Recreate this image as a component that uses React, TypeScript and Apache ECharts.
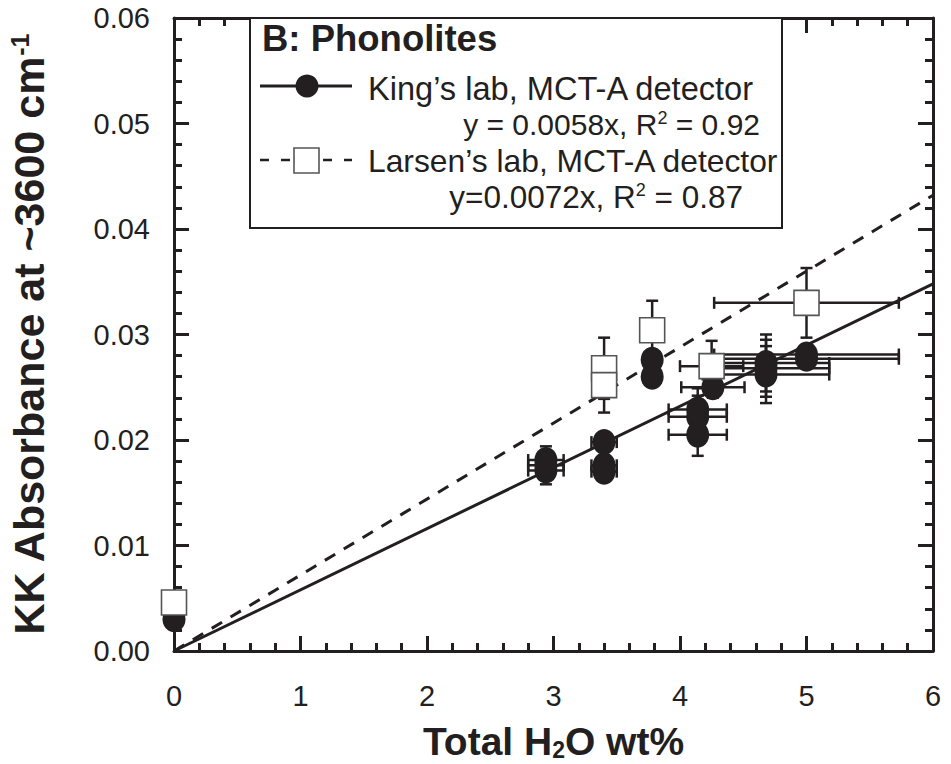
import React, { useEffect, useRef } from 'react';
import * as echarts from 'echarts';

const INK = '#231f20';
const FONT = '"Liberation Sans", Arial, Helvetica, sans-serif';

// King's lab (filled circles): total H2O wt%, absorbance, x error, y error
const kingX = [0, 2.94, 2.94, 2.94, 3.4, 3.4, 3.4, 3.78, 3.78, 4.14, 4.14, 4.14, 4.26, 4.68, 4.68, 4.68, 5.0, 5.0];
const kingY = [0.003, 0.0181, 0.0176, 0.0171, 0.0198, 0.0176, 0.017, 0.0276, 0.026, 0.0229, 0.0222, 0.0205, 0.025, 0.0273, 0.0268, 0.0262, 0.0281, 0.0277];
const kingXErr = [0, 0.14, 0.14, 0.14, 0.1, 0.1, 0.1, 0, 0, 0.23, 0.23, 0.23, 0.25, 0.5, 0.5, 0.5, 0.73, 0.73];
const kingYErr = [0, 0.0013, 0.0013, 0.0013, 0.0006, 0.0006, 0.0006, 0.0008, 0.0008, 0.002, 0.002, 0.002, 0.001, 0.0027, 0.0027, 0.0027, 0, 0];

// Larsen's lab (open squares)
const larsenX = [0, 3.4, 3.4, 3.78, 4.25, 5.0];
const larsenY = [0.0046, 0.0268, 0.0252, 0.0304, 0.027, 0.033];
const larsenXErr = [0, 0, 0, 0, 0.25, 0.73];
const larsenYErr = [0, 0.0029, 0.0026, 0.0028, 0.0024, 0.0033];

// Regression fits (through origin)
const fitRange = [0, 6];
const kingSlope = 0.0058;
const larsenSlope = 0.0072;

// Axis ticks
const xTicks = { min: 0, max: 6, interval: 1 };
const yTicks = { min: 0, max: 0.06, interval: 0.01 };

const legendTitle = 'B: Phonolites';
const kingLabel = "King\u2019s lab, MCT-A detector";
const kingEq = 'y = 0.0058x, R{sup|2} = 0.92';
const larsenLabel = "Larsen\u2019s lab, MCT-A detector";
const larsenEq = 'y=0.0072x, R{sup|2} = 0.87';

function makeAxis(pos: string, ticks: any, showLabels: boolean, fmt?: (v: number) => string) {
  return {
    type: 'value',
    position: pos,
    min: ticks.min,
    max: ticks.max,
    interval: ticks.interval,
    axisLine: { show: true, onZero: false, lineStyle: { color: INK, width: 3 } },
    axisTick: { show: true, inside: true, length: 15, lineStyle: { color: INK, width: 3 } },
    minorTick: { show: true, splitNumber: 5, length: 8, lineStyle: { color: INK, width: 3 } },
    splitLine: { show: false },
    minorSplitLine: { show: false },
    axisLabel: {
      show: showLabels,
      color: INK,
      fontFamily: FONT,
      fontSize: 29,
      margin: pos === 'left' ? 24 : 30,
      formatter: fmt,
    },
  };
}

function errorBars(xs: number[], ys: number[], xe: number[], ye: number[]) {
  return xs.map((x, i) => [x, ys[i], xe[i], ye[i]]);
}

const renderErr = (params: any, api: any) => {
  const x = api.value(0);
  const y = api.value(1);
  const xe = api.value(2);
  const ye = api.value(3);
  const style = { stroke: INK, lineWidth: 2.5 };
  const cap = 6;
  const children: any[] = [];
  if (xe > 0) {
    const l = api.coord([x - xe, y]);
    const r = api.coord([x + xe, y]);
    children.push({ type: 'line', shape: { x1: l[0], y1: l[1], x2: r[0], y2: r[1] }, style });
    children.push({ type: 'line', shape: { x1: l[0], y1: l[1] - cap, x2: l[0], y2: l[1] + cap }, style });
    children.push({ type: 'line', shape: { x1: r[0], y1: r[1] - cap, x2: r[0], y2: r[1] + cap }, style });
  }
  if (ye > 0) {
    const b = api.coord([x, y - ye]);
    const t = api.coord([x, y + ye]);
    children.push({ type: 'line', shape: { x1: b[0], y1: b[1], x2: t[0], y2: t[1] }, style });
    children.push({ type: 'line', shape: { x1: b[0] - cap, y1: b[1], x2: b[0] + cap, y2: b[1] }, style });
    children.push({ type: 'line', shape: { x1: t[0] - cap, y1: t[1], x2: t[0] + cap, y2: t[1] }, style });
  }
  return { type: 'group', children };
};

export default function App() {
  const ref = useRef<HTMLDivElement>(null);
  useEffect(() => {
    const chart = echarts.init(ref.current!, null, { renderer: 'svg' });
    const legendText = (text: string, x: number, y: number, align: string, bold = false, size = 30) => ({
      type: 'text',
      x,
      y,
      z: 100,
      style: {
        text,
        fill: INK,
        fontFamily: FONT,
        fontSize: size,
        fontWeight: bold ? 'bold' : 'normal',
        align,
        textAlign: align,
        verticalAlign: 'middle',
        textVerticalAlign: 'middle',
        rich: {
          sup: { fontSize: 18, fontFamily: FONT, fill: INK, verticalAlign: 'top' },
        },
      },
    });
    const option: any = {
      animation: false,
      backgroundColor: '#fff',
      grid: { left: 174, top: 18, right: 18, bottom: 113, containLabel: false, outerBoundsMode: 'none' },
      xAxis: [
        {
          ...makeAxis('bottom', xTicks, true),
          name: 'Total H{sub|2}O wt%',
          nameLocation: 'middle',
          nameGap: 71,
          nameTextStyle: {
            color: INK,
            fontFamily: FONT,
            fontSize: 39,
            lineHeight: 39,
            fontWeight: 'bold',
            rich: { sub: { fontSize: 23, fontWeight: 'bold', fontFamily: FONT, color: INK, verticalAlign: 'bottom' } },
          },
        },
        makeAxis('top', xTicks, false),
      ],
      yAxis: [
        {
          ...makeAxis('left', yTicks, true, (v: number) => v.toFixed(2)),
          name: 'KK Absorbance at ~3600 cm{sup|-1}',
          nameLocation: 'middle',
          nameGap: 124,
          nameTextStyle: {
            color: INK,
            fontFamily: FONT,
            fontSize: 43,
            fontWeight: 'bold',
            rich: { sup: { fontSize: 25, fontWeight: 'bold', fontFamily: FONT, color: INK, verticalAlign: 'top' } },
          },
        },
        makeAxis('right', yTicks, false),
      ],
      series: [
        {
          type: 'custom',
          name: 'King err',
          renderItem: renderErr,
          data: errorBars(kingX, kingY, kingXErr, kingYErr),
          encode: { x: 0, y: 1 },
          z: 1,
          clip: false,
        },
        {
          type: 'custom',
          name: 'Larsen err',
          renderItem: renderErr,
          data: errorBars(larsenX, larsenY, larsenXErr, larsenYErr),
          encode: { x: 0, y: 1 },
          z: 1,
          clip: false,
        },
        {
          type: 'line',
          name: 'King fit',
          data: fitRange.map((x) => [x, kingSlope * x]),
          symbol: 'none',
          lineStyle: { color: INK, width: 3 },
          z: 2,
        },
        {
          type: 'line',
          name: 'Larsen fit',
          data: fitRange.map((x) => [x, larsenSlope * x]),
          symbol: 'none',
          lineStyle: { color: INK, width: 3, type: [12, 10] },
          z: 2,
        },
        {
          type: 'scatter',
          name: "King's lab",
          data: kingX.map((x, i) => [x, kingY[i]]),
          symbol: 'circle',
          symbolSize: [23, 26],
          itemStyle: { color: INK, opacity: 1 },
          clip: false,
          z: 3,
        },
        {
          type: 'scatter',
          name: "Larsen's lab",
          data: larsenX.map((x, i) => [x, larsenY[i]]),
          symbol: 'rect',
          symbolSize: 25,
          itemStyle: { color: '#fff', borderColor: '#555', borderWidth: 1.6, opacity: 1 },
          clip: false,
          z: 4,
        },
      ],
      graphic: [
        {
          type: 'rect',
          z: 90,
          shape: { x: 250, y: 18, width: 532, height: 210 },
          style: { fill: '#fff', stroke: INK, lineWidth: 2 },
        },
        legendText(legendTitle, 262, 38, 'left', true, 36.5),
        { type: 'line', z: 100, shape: { x1: 260, y1: 86, x2: 352, y2: 86 }, style: { stroke: INK, lineWidth: 3 } },
        { type: 'circle', z: 101, shape: { cx: 307, cy: 86, r: 11.5 }, style: { fill: INK } },
        legendText(kingLabel, 368, 88, 'left', false, 32.6),
        legendText(kingEq, 760, 124, 'right', false, 30),
        { type: 'line', z: 100, shape: { x1: 260, y1: 160, x2: 352, y2: 160 }, style: { stroke: INK, lineWidth: 2.5, lineDash: [9, 12] } },
        { type: 'rect', z: 101, shape: { x: 294, y: 148, width: 25, height: 25 }, style: { fill: '#fff', stroke: '#555', lineWidth: 1.6 } },
        legendText(larsenLabel, 368, 161, 'left', false, 31.8),
        legendText(larsenEq, 743, 197, 'right', false, 31.5),
      ],
    };
    chart.setOption(option);
    return () => chart.dispose();
  }, []);
  return (
    <div
      ref={ref}
      style={{ position: 'absolute', left: 0, top: 0, width: 951, height: 764, background: '#fff' }}
    />
  );
}
